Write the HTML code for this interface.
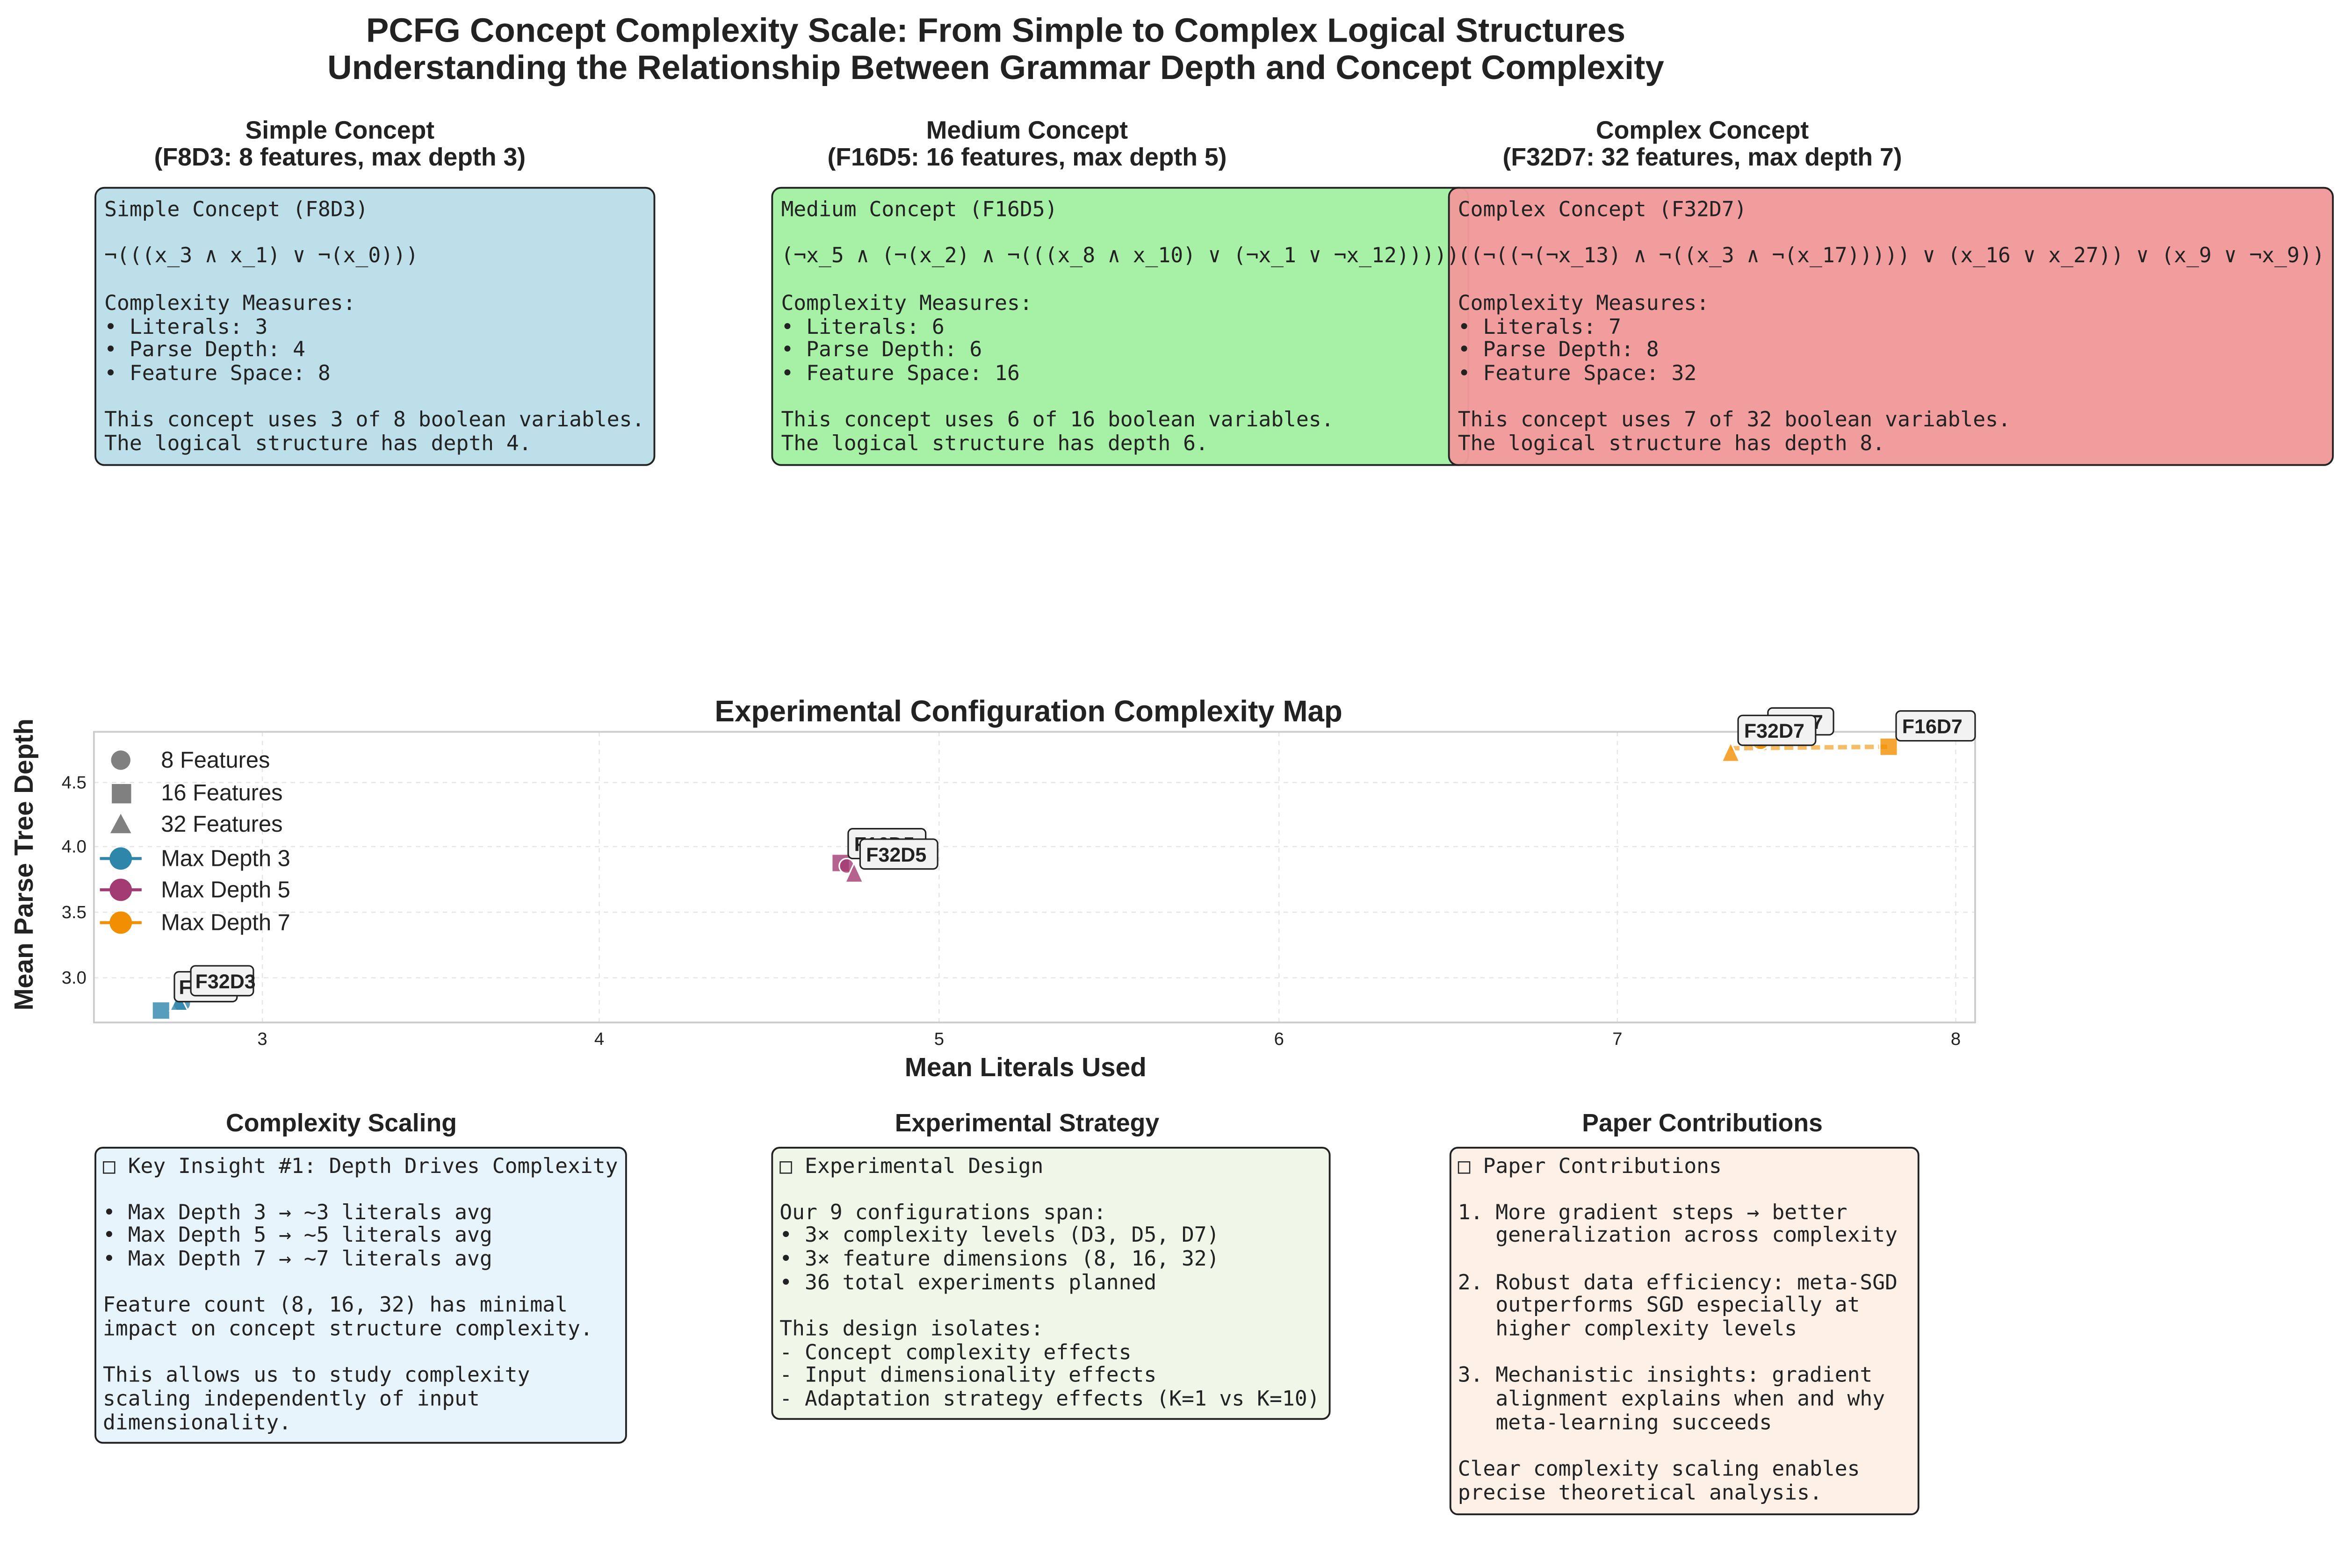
<!DOCTYPE html>
<html><head><meta charset="utf-8"><style>
html,body{margin:0;padding:0;background:#fff;overflow:hidden;}
svg{display:block;}
.m{font-family:"DejaVu Sans Mono","Liberation Mono",monospace;font-size:14px;fill:#222;}
.t{font-family:"Liberation Sans",Arial,sans-serif;font-weight:bold;fill:#222;text-anchor:middle;}
.tk{font-family:"Liberation Sans",Arial,sans-serif;font-size:12px;fill:#222;}
.lg{font-family:"Liberation Sans",Arial,sans-serif;font-size:15.3px;fill:#222;}
.lb{font-family:"Liberation Sans",Arial,sans-serif;font-size:13.5px;font-weight:bold;fill:#222;}
</style></head><body>
<svg width="5158" height="3354" viewBox="0 0 1618 1052" preserveAspectRatio="none" xmlns="http://www.w3.org/2000/svg">
<rect width="1618" height="1052" fill="#fff"/>
<text class="t" x="668" y="28" font-size="22.8">PCFG Concept Complexity Scale: From Simple to Complex Logical Structures</text>
<text class="t" x="668" y="53" font-size="22.8">Understanding the Relationship Between Grammar Depth and Concept Complexity</text>

<text class="t" x="228" y="93" font-size="16.8">Simple Concept</text>
<text class="t" x="228" y="111" font-size="16.8">(F8D3: 8 features, max depth 3)</text>
<text class="t" x="689" y="93" font-size="16.8">Medium Concept</text>
<text class="t" x="689" y="111" font-size="16.8">(F16D5: 16 features, max depth 5)</text>
<text class="t" x="1142" y="93" font-size="16.8">Complex Concept</text>
<text class="t" x="1142" y="111" font-size="16.8">(F32D7: 32 features, max depth 7)</text>

<rect x="64" y="126" width="375" height="186" rx="6" fill="#bcdfe9" stroke="#222" stroke-width="1.2"/>
<rect x="518" y="126" width="467" height="186" rx="6" fill="#a6f1a6" stroke="#222" stroke-width="1.2"/>
<rect x="972" y="126" width="593" height="186" rx="6" fill="#f19a9a" fill-opacity="0.97" stroke="#222" stroke-width="1.2"/>

<g class="m">
<text x="70" y="145">Simple Concept (F8D3)</text>
<text x="70" y="176">¬(((x_3 ∧ x_1) ∨ ¬(x_0)))</text>
<text x="70" y="208">Complexity Measures:</text>
<text x="70" y="224">• Literals: 3</text>
<text x="70" y="239">• Parse Depth: 4</text>
<text x="70" y="255">• Feature Space: 8</text>
<text x="70" y="286">This concept uses 3 of 8 boolean variables.</text>
<text x="70" y="302">The logical structure has depth 4.</text>

<text x="524" y="145">Medium Concept (F16D5)</text>
<text x="524" y="176">(¬x_5 ∧ (¬(x_2) ∧ ¬(((x_8 ∧ x_10) ∨ (¬x_1 ∨ ¬x_12)))))</text>
<text x="524" y="208">Complexity Measures:</text>
<text x="524" y="224">• Literals: 6</text>
<text x="524" y="239">• Parse Depth: 6</text>
<text x="524" y="255">• Feature Space: 16</text>
<text x="524" y="286">This concept uses 6 of 16 boolean variables.</text>
<text x="524" y="302">The logical structure has depth 6.</text>

<text x="978" y="145">Complex Concept (F32D7)</text>
<text x="978" y="176">((¬((¬(¬x_13) ∧ ¬((x_3 ∧ ¬(x_17))))) ∨ (x_16 ∨ x_27)) ∨ (x_9 ∨ ¬x_9))</text>
<text x="978" y="208">Complexity Measures:</text>
<text x="978" y="224">• Literals: 7</text>
<text x="978" y="239">• Parse Depth: 8</text>
<text x="978" y="255">• Feature Space: 32</text>
<text x="978" y="286">This concept uses 7 of 32 boolean variables.</text>
<text x="978" y="302">The logical structure has depth 8.</text>
</g>

<!-- plot -->
<text class="t" x="690" y="484" font-size="20">Experimental Configuration Complexity Map</text>
<g stroke="#e6e6e6" stroke-dasharray="3,3" stroke-width="0.8">
<line x1="176" y1="491" x2="176" y2="686"/><line x1="402" y1="491" x2="402" y2="686"/>
<line x1="630" y1="491" x2="630" y2="686"/><line x1="858" y1="491" x2="858" y2="686"/>
<line x1="1085" y1="491" x2="1085" y2="686"/><line x1="1312" y1="491" x2="1312" y2="686"/>
<line x1="63" y1="525" x2="1325" y2="525"/><line x1="63" y1="568" x2="1325" y2="568"/>
<line x1="63" y1="612" x2="1325" y2="612"/><line x1="63" y1="656" x2="1325" y2="656"/>
</g>
<rect x="63" y="491" width="1262" height="195" fill="none" stroke="#ccc" stroke-width="1.2"/>
<g class="tk" text-anchor="middle">
<text x="176" y="701">3</text><text x="402" y="701">4</text><text x="630" y="701">5</text>
<text x="858" y="701">6</text><text x="1085" y="701">7</text><text x="1312" y="701">8</text>
</g>
<g class="tk" text-anchor="end">
<text x="58" y="529">4.5</text><text x="58" y="572">4.0</text><text x="58" y="616">3.5</text><text x="58" y="660">3.0</text>
</g>
<text class="t" x="688" y="722" font-size="17.8">Mean Literals Used</text>
<text class="t" font-size="17.8" transform="translate(22,580) rotate(-90)">Mean Parse Tree Depth</text>

<!-- legend -->
<circle cx="81" cy="510" r="6.5" fill="#808080"/><text class="lg" x="108" y="515">8 Features</text>
<rect x="75" y="526" width="13" height="13" fill="#808080"/><text class="lg" x="108" y="537">16 Features</text>
<polygon points="81,546 88,559 74,559" fill="#808080"/><text class="lg" x="108" y="558">32 Features</text>
<line x1="67" y1="576" x2="95" y2="576" stroke="#2e86ab" stroke-width="2"/><circle cx="81" cy="576" r="7.5" fill="#2e86ab"/><text class="lg" x="108" y="581">Max Depth 3</text>
<line x1="67" y1="597" x2="95" y2="597" stroke="#a23b72" stroke-width="2"/><circle cx="81" cy="597" r="7.5" fill="#a23b72"/><text class="lg" x="108" y="602">Max Depth 5</text>
<line x1="67" y1="619" x2="95" y2="619" stroke="#f18f01" stroke-width="2"/><circle cx="81" cy="619" r="7.5" fill="#f18f01"/><text class="lg" x="108" y="624">Max Depth 7</text>

<!-- D3 points -->
<g fill="#2e86ab" fill-opacity="0.8" stroke="#fff" stroke-width="1">
<rect x="102" y="672" width="12" height="12"/>
<circle cx="122" cy="673" r="6"/>
<polygon points="120,666 126,678 114,678"/>
</g>
<g class="lb">
<rect x="117" y="652" width="42" height="20" rx="3" fill="#f2f2f2" stroke="#222"/><text x="120" y="667">F16D3</text>
<rect x="128" y="648" width="42" height="20" rx="3" fill="#f2f2f2" stroke="#222"/><text x="131" y="663">F32D3</text>
</g>
<!-- D5 points -->
<g fill="#a23b72" fill-opacity="0.8" stroke="#fff" stroke-width="1">
<rect x="558" y="573" width="12" height="12"/>
<circle cx="568" cy="581" r="5"/>
<polygon points="573,579 579,592 567,592"/>
</g>
<g class="lb">
<rect x="569" y="556" width="52" height="20" rx="3" fill="#f2f2f2" stroke="#222"/><text x="573" y="571">F16D5</text>
<rect x="577" y="563" width="52" height="20" rx="3" fill="#f2f2f2" stroke="#222"/><text x="581" y="578">F32D5</text>
</g>
<!-- D7 points -->
<line x1="1161" y1="502" x2="1267" y2="501" stroke="#f18f01" stroke-opacity="0.6" stroke-width="3" stroke-dasharray="6,3"/>
<g fill="#f18f01" fill-opacity="0.8" stroke="#fff" stroke-width="1">
<polygon points="1161,498 1167,511 1155,511"/>
<circle cx="1181" cy="497" r="6"/>
<rect x="1261" y="495" width="12" height="12"/>
</g>
<g class="lb">
<rect x="1186" y="475" width="44" height="18" rx="3" fill="#f2f2f2" stroke="#222"/><text x="1190" y="489">F8D7</text>
<rect x="1166" y="480" width="52" height="20" rx="3" fill="#f2f2f2" stroke="#222"/><text x="1170" y="495">F32D7</text>
<rect x="1272" y="477" width="53" height="20" rx="3" fill="#f2f2f2" stroke="#222"/><text x="1276" y="492">F16D7</text>
</g>

<!-- bottom -->
<text class="t" x="229" y="759" font-size="16.8">Complexity Scaling</text>
<text class="t" x="689" y="759" font-size="16.8">Experimental Strategy</text>
<text class="t" x="1142" y="759" font-size="16.8">Paper Contributions</text>

<rect x="64" y="770" width="356" height="198" rx="5" fill="#e8f4fb" stroke="#222" stroke-width="1.2"/>
<rect x="518" y="770" width="374" height="182" rx="5" fill="#f0f7e8" stroke="#222" stroke-width="1.2"/>
<rect x="973" y="770" width="314" height="246" rx="5" fill="#fdf1e7" stroke="#222" stroke-width="1.2"/>

<g class="m">
<text x="69" y="787">□ Key Insight #1: Depth Drives Complexity</text>
<text x="69" y="818">• Max Depth 3 → ~3 literals avg</text>
<text x="69" y="833">• Max Depth 5 → ~5 literals avg</text>
<text x="69" y="849">• Max Depth 7 → ~7 literals avg</text>
<text x="69" y="880">Feature count (8, 16, 32) has minimal</text>
<text x="69" y="896">impact on concept structure complexity.</text>
<text x="69" y="927">This allows us to study complexity</text>
<text x="69" y="943">scaling independently of input</text>
<text x="69" y="959">dimensionality.</text>

<text x="523" y="787">□ Experimental Design</text>
<text x="523" y="818">Our 9 configurations span:</text>
<text x="523" y="833">• 3× complexity levels (D3, D5, D7)</text>
<text x="523" y="849">• 3× feature dimensions (8, 16, 32)</text>
<text x="523" y="865">• 36 total experiments planned</text>
<text x="523" y="896">This design isolates:</text>
<text x="523" y="912">- Concept complexity effects</text>
<text x="523" y="927">- Input dimensionality effects</text>
<text x="523" y="943">- Adaptation strategy effects (K=1 vs K=10)</text>

<text x="978" y="787">□ Paper Contributions</text>
<text x="978" y="818">1. More gradient steps → better</text>
<text x="978" y="833" xml:space="preserve">   generalization across complexity</text>
<text x="978" y="865">2. Robust data efficiency: meta-SGD</text>
<text x="978" y="880" xml:space="preserve">   outperforms SGD especially at</text>
<text x="978" y="896" xml:space="preserve">   higher complexity levels</text>
<text x="978" y="927">3. Mechanistic insights: gradient</text>
<text x="978" y="943" xml:space="preserve">   alignment explains when and why</text>
<text x="978" y="959" xml:space="preserve">   meta-learning succeeds</text>
<text x="978" y="990">Clear complexity scaling enables</text>
<text x="978" y="1006">precise theoretical analysis.</text>
</g>
</svg>
</body></html>
